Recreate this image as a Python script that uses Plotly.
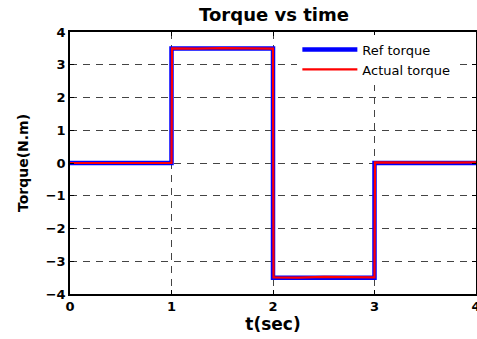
import plotly.graph_objects as go

# Data
t_ref = [0, 1, 1, 2, 2, 3, 3, 4]
torque_ref = [0, 0, 3.5, 3.5, -3.5, -3.5, 0, 0]

t_act = [0, 0.5, 1.0, 1.005, 1.25, 1.5, 1.75, 2.0, 2.005, 2.25, 2.5, 2.75, 3.0, 3.005, 3.25, 3.5, 3.75, 4.0]
torque_act = [0, 0.01, 0, 3.5, 3.49, 3.51, 3.5, 3.49, -3.49, -3.5, -3.48, -3.49, -3.49, 0.02, 0.01, 0.02, 0.01, 0.02]

FONT = "DejaVu Sans, Arial"

fig = go.Figure()
fig.add_trace(go.Scatter(x=t_ref, y=torque_ref, mode="lines", name="Ref torque",
                         line=dict(color="#0000ff", width=4.5)))
fig.add_trace(go.Scatter(x=t_act, y=torque_act, mode="lines", name="Actual torque",
                         line=dict(color="#ff0000", width=2.2)))

axis_common = dict(
    showline=True, linecolor="black", linewidth=1.5, mirror="ticks",
    ticks="inside", ticklen=4, tickcolor="black",
    showgrid=True, gridcolor="#444444", gridwidth=1, griddash="7px,6px",
    zeroline=False, ticklabeloverflow="allow", automargin=False,
    tickfont=dict(family=FONT, size=13, color="black", weight="bold"),
)

fig.update_layout(
    width=477, height=339,
    margin=dict(l=70, r=1, t=32, b=45),
    paper_bgcolor="white", plot_bgcolor="white",
    title=dict(text="<b>Torque vs time</b>", x=(72 + 476) / 2 / 477, xanchor="center",
               y=1 - 15 / 339, yanchor="middle",
               font=dict(family=FONT, size=18, color="black")),
    xaxis=dict(range=[0, 4], dtick=1,
               title=dict(text="<b>t(sec)</b>", standoff=3,
                          font=dict(family=FONT, size=17, color="black")),
               **axis_common),
    yaxis=dict(range=[-4, 4], dtick=1,
               title=dict(text="<b>Torque(N.m)</b>", standoff=14,
                          font=dict(family=FONT, size=14, color="black")),
               **axis_common),
    legend=dict(x=0.56, y=0.99, xanchor="left", yanchor="top",
                bgcolor="white", borderwidth=0, itemwidth=55,
                tracegroupgap=0,
                font=dict(family=FONT, size=13, color="black")),
    showlegend=True,
)

fig.write_html("out.html")
